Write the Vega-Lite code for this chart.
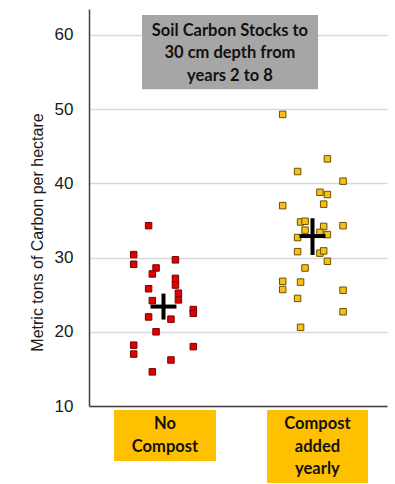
{
  "$schema": "https://vega.github.io/schema/vega-lite/v6.json",
  "width": 298,
  "height": 397,
  "autosize": {"type": "none"},
  "padding": {"left": 89, "top": 9, "right": 8, "bottom": 78},
  "background": "white",
  "config": {"view": {"stroke": null}},
  "datasets": {
    "points": [
      {"g": "No Compost", "x": 0.90, "y": 34.3},
      {"g": "No Compost", "x": 0.80, "y": 30.4},
      {"g": "No Compost", "x": 0.80, "y": 29.1},
      {"g": "No Compost", "x": 1.08, "y": 29.7},
      {"g": "No Compost", "x": 0.95, "y": 28.6},
      {"g": "No Compost", "x": 0.925, "y": 27.8},
      {"g": "No Compost", "x": 1.08, "y": 27.2},
      {"g": "No Compost", "x": 1.08, "y": 26.3},
      {"g": "No Compost", "x": 0.90, "y": 25.8},
      {"g": "No Compost", "x": 1.10, "y": 25.2},
      {"g": "No Compost", "x": 1.10, "y": 24.3},
      {"g": "No Compost", "x": 0.925, "y": 24.2},
      {"g": "No Compost", "x": 1.20, "y": 23.0},
      {"g": "No Compost", "x": 1.20, "y": 22.5},
      {"g": "No Compost", "x": 0.90, "y": 22.0},
      {"g": "No Compost", "x": 1.05, "y": 21.7},
      {"g": "No Compost", "x": 0.95, "y": 20.0},
      {"g": "No Compost", "x": 0.80, "y": 18.2},
      {"g": "No Compost", "x": 0.80, "y": 17.0},
      {"g": "No Compost", "x": 1.20, "y": 18.0},
      {"g": "No Compost", "x": 1.05, "y": 16.2},
      {"g": "No Compost", "x": 0.925, "y": 14.6},
      {"g": "Compost", "x": 1.80, "y": 49.3},
      {"g": "Compost", "x": 2.10, "y": 43.3},
      {"g": "Compost", "x": 1.90, "y": 41.6},
      {"g": "Compost", "x": 2.205, "y": 40.3},
      {"g": "Compost", "x": 2.05, "y": 38.8},
      {"g": "Compost", "x": 2.10, "y": 38.5},
      {"g": "Compost", "x": 2.075, "y": 37.2},
      {"g": "Compost", "x": 1.80, "y": 37.0},
      {"g": "Compost", "x": 1.92, "y": 34.8},
      {"g": "Compost", "x": 1.95, "y": 34.9},
      {"g": "Compost", "x": 2.205, "y": 34.3},
      {"g": "Compost", "x": 2.075, "y": 34.2},
      {"g": "Compost", "x": 1.95, "y": 33.7},
      {"g": "Compost", "x": 2.05, "y": 33.4},
      {"g": "Compost", "x": 2.10, "y": 33.1},
      {"g": "Compost", "x": 1.90, "y": 32.7},
      {"g": "Compost", "x": 1.90, "y": 30.8},
      {"g": "Compost", "x": 2.05, "y": 30.6},
      {"g": "Compost", "x": 2.075, "y": 30.9},
      {"g": "Compost", "x": 2.10, "y": 29.5},
      {"g": "Compost", "x": 1.95, "y": 28.6},
      {"g": "Compost", "x": 1.80, "y": 26.8},
      {"g": "Compost", "x": 1.92, "y": 26.7},
      {"g": "Compost", "x": 1.80, "y": 25.7},
      {"g": "Compost", "x": 2.205, "y": 25.6},
      {"g": "Compost", "x": 1.90, "y": 24.5},
      {"g": "Compost", "x": 2.205, "y": 22.7},
      {"g": "Compost", "x": 1.92, "y": 20.6}
    ],
    "crossH": [
      {"x": 0.913, "x2": 1.087, "y": 23.4},
      {"x": 1.913, "x2": 2.087, "y": 32.9}
    ],
    "crossV": [
      {"x": 1.0, "y": 21.65, "y2": 25.15},
      {"x": 2.0, "y": 30.35, "y2": 35.3}
    ],
    "boxes": [
      {"x": 0.856, "x2": 2.037, "y": 62.7, "y2": 52.7, "c": "title"},
      {"x": 0.668, "x2": 1.352, "y": 9.46, "y2": 2.59, "c": "cat"},
      {"x": 1.695, "x2": 2.372, "y": 9.46, "y2": -0.38, "c": "cat"}
    ],
    "texts": [
      {"x": 1.446, "y": 60.58, "t": "Soil Carbon Stocks to"},
      {"x": 1.446, "y": 57.53, "t": "30 cm depth from"},
      {"x": 1.446, "y": 54.51, "t": "years 2 to 8"},
      {"x": 1.01, "y": 7.53, "t": "No"},
      {"x": 1.01, "y": 4.51, "t": "Compost"},
      {"x": 2.033, "y": 7.53, "t": "Compost"},
      {"x": 2.033, "y": 4.51, "t": "added"},
      {"x": 2.033, "y": 1.51, "t": "yearly"}
    ]
  },
  "layer": [
    {
      "data": {"name": "points"},
      "mark": {"type": "point", "shape": "square", "filled": true, "size": 42, "strokeWidth": 1, "opacity": 1},
      "encoding": {
        "x": {
          "field": "x", "type": "quantitative",
          "scale": {"domain": [0.5, 2.5], "nice": false, "zero": false},
          "axis": {"labels": false, "ticks": false, "grid": false, "title": null, "domainColor": "#404040", "domainWidth": 1.5}
        },
        "y": {
          "field": "y", "type": "quantitative",
          "scale": {"domain": [10, 63.5], "nice": false, "zero": false},
          "axis": {
            "values": [10, 20, 30, 40, 50, 60],
            "ticks": false,
            "grid": true, "gridColor": "#d9d9d9", "gridWidth": 1.5,
            "domainColor": "#404040", "domainWidth": 1.5,
            "labelFont": "Liberation Sans", "labelFontSize": 17, "labelColor": "#1a1a1a", "labelPadding": 16,
            "title": "Metric tons of Carbon per hectare",
            "titleFont": "Liberation Sans", "titleFontSize": 16, "titleFontWeight": "normal", "titleColor": "#1a1a1a",
            "titleAngle": 270, "titleX": -52, "titleY": 223, "titleAlign": "center", "titleBaseline": "middle"
          }
        },
        "fill": {"field": "g", "type": "nominal", "scale": {"domain": ["No Compost", "Compost"], "range": ["#e00000", "#f5c116"]}, "legend": null},
        "stroke": {"field": "g", "type": "nominal", "scale": {"domain": ["No Compost", "Compost"], "range": ["#7a0000", "#6b5000"]}, "legend": null}
      }
    },
    {
      "data": {"name": "crossH"},
      "mark": {"type": "rule", "color": "black", "strokeWidth": 4},
      "encoding": {
        "x": {"field": "x", "type": "quantitative"},
        "x2": {"field": "x2"},
        "y": {"field": "y", "type": "quantitative"}
      }
    },
    {
      "data": {"name": "crossV"},
      "mark": {"type": "rule", "color": "black", "strokeWidth": 4},
      "encoding": {
        "x": {"field": "x", "type": "quantitative"},
        "y": {"field": "y", "type": "quantitative"},
        "y2": {"field": "y2"}
      }
    },
    {
      "data": {"name": "boxes"},
      "mark": {"type": "rect"},
      "encoding": {
        "x": {"field": "x", "type": "quantitative"},
        "x2": {"field": "x2"},
        "y": {"field": "y", "type": "quantitative"},
        "y2": {"field": "y2"},
        "fill": {"field": "c", "type": "nominal", "scale": {"domain": ["title", "cat"], "range": ["#a6a6a6", "#ffc000"]}, "legend": null}
      }
    },
    {
      "data": {"name": "texts"},
      "mark": {"type": "text", "font": "Lato", "fontWeight": "bold", "fontSize": 16.5, "color": "#111111", "align": "center", "baseline": "middle"},
      "encoding": {
        "x": {"field": "x", "type": "quantitative"},
        "y": {"field": "y", "type": "quantitative"},
        "text": {"field": "t"}
      }
    }
  ],
  "resolve": {"scale": {"fill": "independent"}}
}
